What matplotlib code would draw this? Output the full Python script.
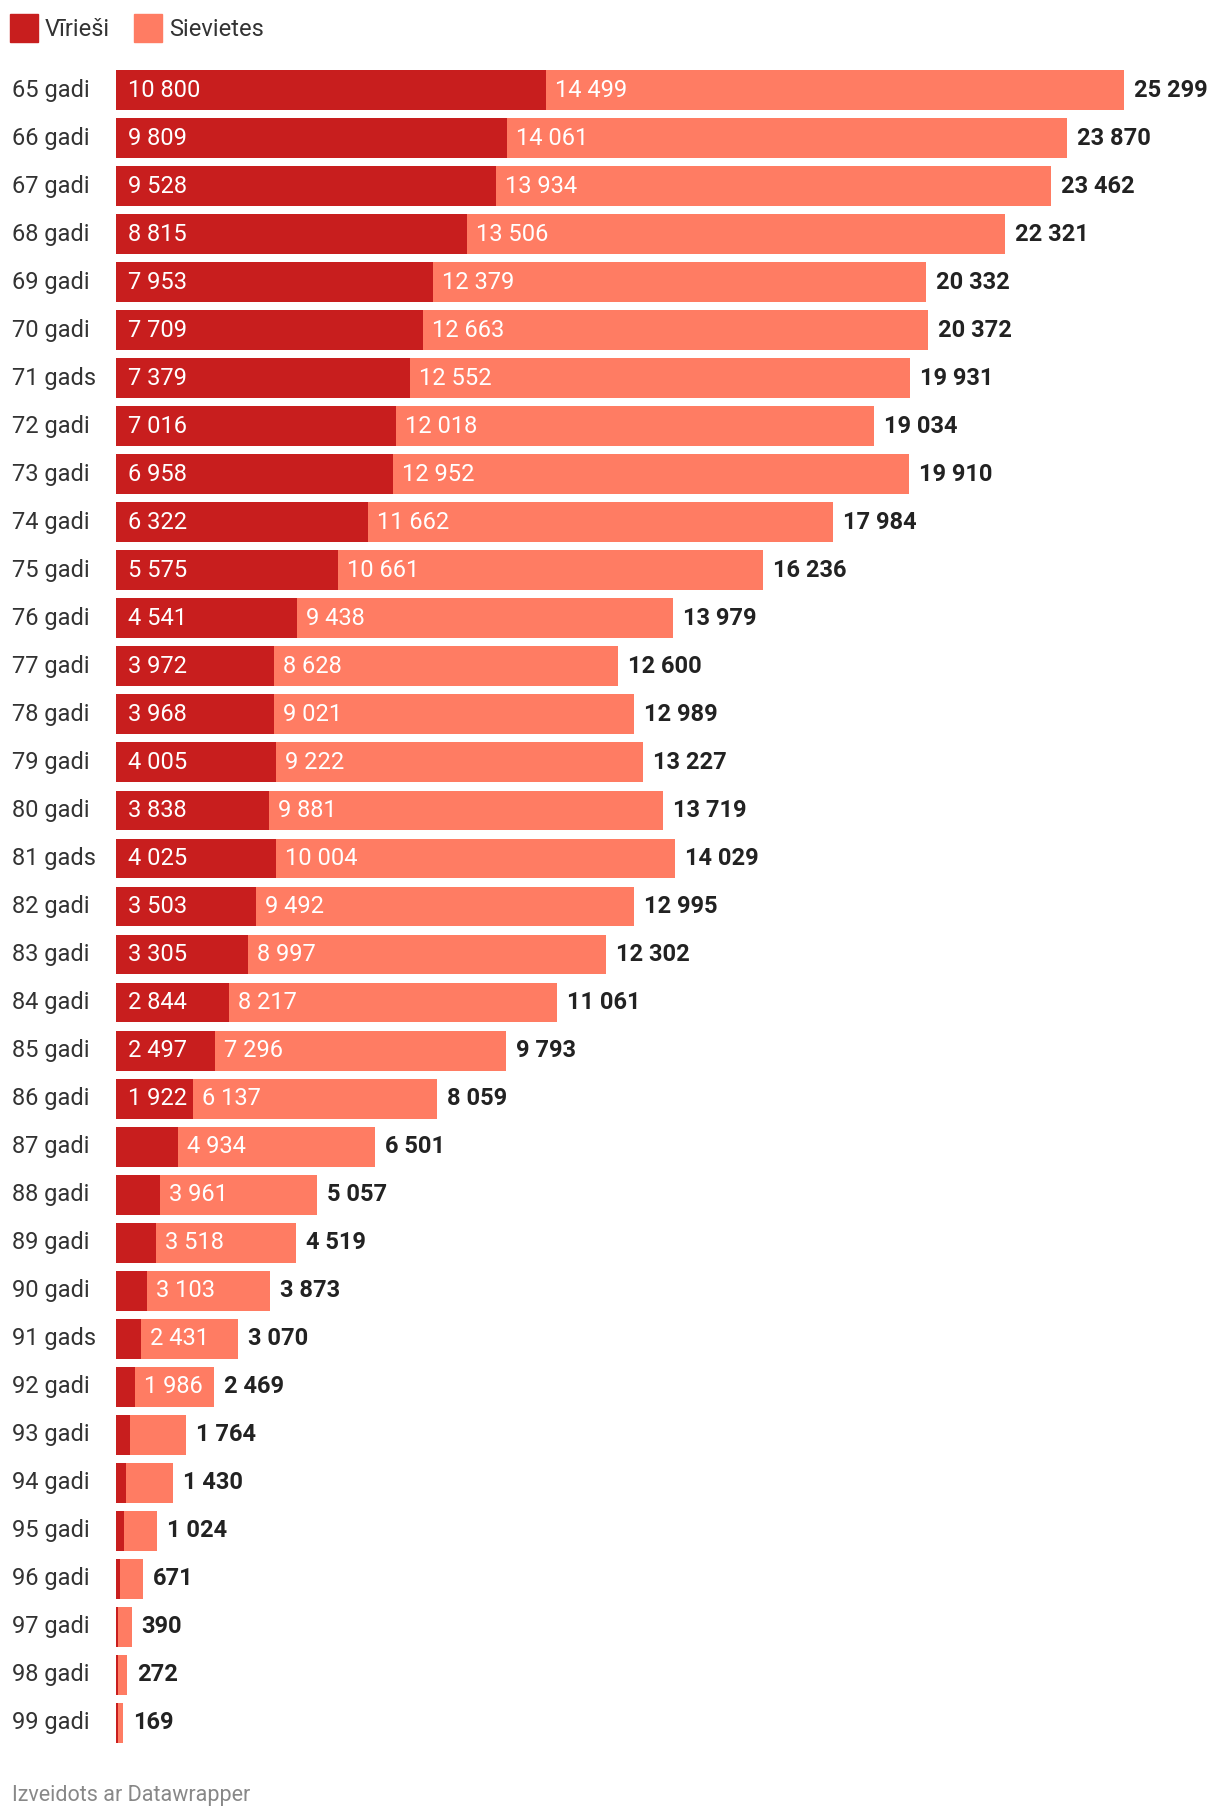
import matplotlib
matplotlib.use('Agg')
import matplotlib.pyplot as plt
from matplotlib.patches import Rectangle

plt.rcParams['font.family'] = ['Roboto', 'DejaVu Sans']

# Data
ages = ['65 gadi', '66 gadi', '67 gadi', '68 gadi', '69 gadi', '70 gadi', '71 gads',
        '72 gadi', '73 gadi', '74 gadi', '75 gadi', '76 gadi', '77 gadi', '78 gadi',
        '79 gadi', '80 gadi', '81 gads', '82 gadi', '83 gadi', '84 gadi', '85 gadi',
        '86 gadi', '87 gadi', '88 gadi', '89 gadi', '90 gadi', '91 gads', '92 gadi',
        '93 gadi', '94 gadi', '95 gadi', '96 gadi', '97 gadi', '98 gadi', '99 gadi']
men = [10800, 9809, 9528, 8815, 7953, 7709, 7379, 7016, 6958, 6322, 5575, 4541,
       3972, 3968, 4005, 3838, 4025, 3503, 3305, 2844, 2497, 1922,
       1567, 1096, 1001, 770, 639, 483, 350, 250, 200, 100, 50, 45, 40]
women = [14499, 14061, 13934, 13506, 12379, 12663, 12552, 12018, 12952, 11662,
         10661, 9438, 8628, 9021, 9222, 9881, 10004, 9492, 8997, 8217, 7296,
         6137, 4934, 3961, 3518, 3103, 2431, 1986, 1414, 1180, 824, 571, 340, 227, 129]
totals = [25299, 23870, 23462, 22321, 20332, 20372, 19931, 19034, 19910, 17984,
          16236, 13979, 12600, 12989, 13227, 13719, 14029, 12995, 12302, 11061,
          9793, 8059, 6501, 5057, 4519, 3873, 3070, 2469, 1764, 1430, 1024, 671,
          390, 272, 169]

MEN_COLOR = '#c81e1e'
WOMEN_COLOR = '#ff7c63'
FS = 17


def fmt(v):
    return f'{v:,}'.replace(',', ' ')


W, H = 1220, 1818
fig = plt.figure(figsize=(W / 100, H / 100), dpi=100)

# axes placement in pixels
left_px, right_px = 116, 1220
top_px, bot_px = 66, 1747
ax = fig.add_axes([left_px / W, 1 - bot_px / H, (right_px - left_px) / W, (bot_px - top_px) / H])
scale = 1008 / 25299  # px per unit
ax.set_xlim(0, (right_px - left_px) / scale)
ax.set_ylim(len(ages) - 0.5, -0.5)
ax.axis('off')

px = 1 / scale  # data units per pixel
y = list(range(len(ages)))
ax.barh(y, men, height=0.83, color=MEN_COLOR, linewidth=0)
ax.barh(y, women, left=men, height=0.83, color=WOMEN_COLOR, linewidth=0)

for i in y:
    if men[i] * scale > 72:
        ax.text(12 * px, i, fmt(men[i]), color='white', fontsize=FS,
                va='center', ha='left')
    if women[i] * scale > 60:
        ax.text(men[i] + 9 * px, i, fmt(women[i]), color='white', fontsize=FS,
                va='center', ha='left')
    ax.text(totals[i] + 10 * px, i, fmt(totals[i]), color='#222222', fontsize=FS,
            fontweight='bold', va='center', ha='left')
    ax.text(-104 * px, i, ages[i], color='#333333', fontsize=FS,
            va='center', ha='left', clip_on=False)

# legend
for x0, label, col in [(10, 'Vīrieši', MEN_COLOR), (134, 'Sievietes', WOMEN_COLOR)]:
    fig.patches.append(Rectangle((x0 / W, 1 - 42 / H), 28 / W, 28 / H,
                                 transform=fig.transFigure, color=col))
    fig.text((x0 + 35) / W, 1 - 29 / H, label, fontsize=FS, color='#333333',
             va='center', ha='left')

fig.text(12 / W, 1 - 1795 / H, 'Izveidots ar Datawrapper', fontsize=15.5,
         color='#888888', va='center', ha='left')

fig.savefig('out.png', dpi=100, facecolor='white')
